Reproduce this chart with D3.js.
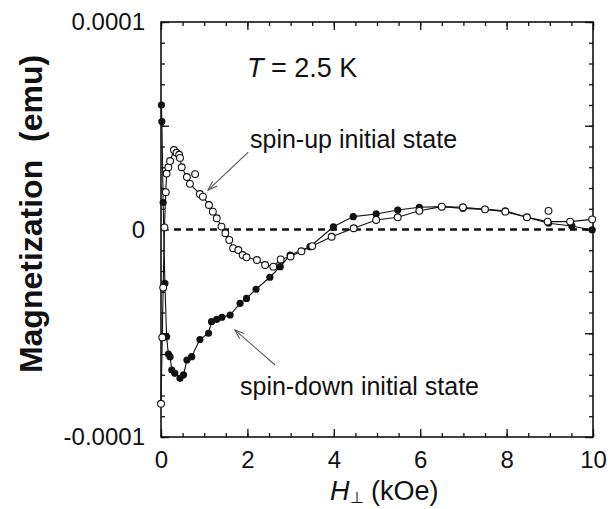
<!DOCTYPE html>
<html><head><meta charset="utf-8">
<script src="https://cdn.jsdelivr.net/npm/d3@7"></script>
<style>body{margin:0;background:#fff}svg{display:block}text{font-family:"Liberation Sans",Arial,Helvetica,sans-serif;fill:#111}</style>
</head><body>
<script>
// ---- data (M in units of 1e-5 emu) ----
const upH = [0,0.03,0.05,0.08,0.11,0.13,0.17,0.21,0.3,0.36,0.42,0.44,0.48,0.6,0.67,0.9,0.97,1.11,1.2,1.29,1.4,1.49,1.58,1.67,1.79,1.89,1.98,2.22,2.41,2.6,2.77,3.0,3.25,3.5,3.95,4.46,4.98,5.48,5.98,6.5,6.99,7.5,7.97,8.47,8.95,9.47,9.98];
const upM = [-8.4,-5.2,-2.8,0.1,1.8,2.7,3.0,3.3,3.83,3.7,3.6,3.45,3.0,2.53,2.2,1.71,1.58,1.18,0.86,0.54,0.14,-0.18,-0.5,-0.9,-0.99,-1.23,-1.34,-1.47,-1.71,-1.79,-1.44,-1.3,-1.05,-0.8,-0.35,0.06,0.46,0.59,0.9,1.1,1.07,0.97,0.86,0.59,0.38,0.38,0.49];
const upOutH = [0.79, 8.97];
const upOutM = [2.67, 0.9];
const downH = [0.01,0.02,0.05,0.09,0.13,0.17,0.21,0.25,0.32,0.44,0.52,0.6,0.71,0.9,1.1,1.17,1.29,1.41,1.6,1.83,1.98,2.2,2.52,2.76,2.99,3.45,3.99,4.45,4.98,5.48,5.98,6.5,6.99,7.5,7.97,8.47,8.97,9.51,9.98];
const downM = [6.0,5.2,1.3,-2.6,-5.17,-6.0,-6.13,-6.77,-6.93,-7.17,-7.01,-6.29,-6.13,-5.3,-5.0,-4.44,-4.33,-4.23,-4.12,-3.56,-3.32,-2.88,-2.3,-1.79,-1.23,-0.83,0.13,0.62,0.75,0.94,1.07,1.1,1.02,0.97,0.9,0.59,0.3,0.17,-0.02];
const xMajor = [0,2,4,6,8,10];
const xMinor = d3.range(0, 10.01, 0.5);
const yLabeled = [1e-4, 0, -1e-4];
const yLabels = ["0.0001", "0", "-0.0001"];
const yMajor = [-1e-4,-5e-5,0,5e-5,1e-4];
const yMinor = d3.range(-10, 10.5, 1).map(v => v * 1e-5);
const S = 1e-5;

const W = 608, H = 509;
const svg = d3.select("body").append("svg").attr("width", W).attr("height", H);
const x = d3.scaleLinear().domain([0, 10]).range([161, 593]);
const y = d3.scaleLinear().domain([-1e-4, 1e-4]).range([437, 22]);

// zero dashed line
svg.append("line").attr("x1", x(0.3)).attr("x2", x(10)).attr("y1", y(0)).attr("y2", y(0))
  .attr("stroke", "#111").attr("stroke-width", 2.6).attr("stroke-dasharray", "7,5");

// axes (inward ticks)
function noText(g){ g.selectAll("text").remove(); g.select(".domain").remove(); }
svg.append("g").attr("transform", `translate(0,${y(-1e-4)})`)
  .call(d3.axisBottom(x).tickValues(xMinor).tickSize(-4).tickFormat("")).call(noText);
svg.append("g").attr("transform", `translate(0,${y(1e-4)})`)
  .call(d3.axisTop(x).tickValues(xMinor).tickSize(-4).tickFormat("")).call(noText);
svg.append("g").attr("transform", `translate(0,${y(-1e-4)})`)
  .call(d3.axisBottom(x).tickValues(xMajor).tickSize(-8).tickPadding(14).tickFormat(d3.format("d")))
  .call(g => { g.select(".domain").remove(); g.selectAll("text").attr("font-size", 24).attr("fill", "#111"); });
svg.append("g").attr("transform", `translate(0,${y(1e-4)})`)
  .call(d3.axisTop(x).tickValues(xMajor).tickSize(-8).tickFormat("")).call(noText);

svg.append("g").attr("transform", `translate(${x(0)},0)`)
  .call(d3.axisLeft(y).tickValues(yMinor).tickSize(-4).tickFormat("")).call(noText);
svg.append("g").attr("transform", `translate(${x(10)},0)`)
  .call(d3.axisRight(y).tickValues(yMinor).tickSize(-4).tickFormat("")).call(noText);
svg.append("g").attr("transform", `translate(${x(0)},0)`)
  .call(d3.axisLeft(y).tickValues(yMajor).tickSize(-8).tickFormat("")).call(noText);
svg.append("g").attr("transform", `translate(${x(10)},0)`)
  .call(d3.axisRight(y).tickValues(yMajor).tickSize(-8).tickFormat("")).call(noText);
svg.append("g").attr("transform", `translate(${x(0)},0)`)
  .call(d3.axisLeft(y).tickValues(yLabeled).tickSize(0).tickPadding(16).tickFormat((d, i) => yLabels[i]))
  .call(g => { g.select(".domain").remove(); g.selectAll("text").attr("font-size", 24).attr("fill", "#111"); });
svg.selectAll(".tick line").attr("stroke", "#111").attr("stroke-width", 1.3);

// frame
svg.append("rect").attr("x", x(0)).attr("y", y(1e-4)).attr("width", x(10) - x(0)).attr("height", y(-1e-4) - y(1e-4))
  .attr("fill", "none").attr("stroke", "#111").attr("stroke-width", 1.6);

// curves
const line = d3.line().x(d => x(d[0])).y(d => y(d[1] * S));
const up = upH.map((h, i) => [h, upM[i]]);
const down = downH.map((h, i) => [h, downM[i]]);
svg.append("path").attr("d", line(up)).attr("fill", "none").attr("stroke", "#111").attr("stroke-width", 1.1);
svg.append("path").attr("d", line(down)).attr("fill", "none").attr("stroke", "#111").attr("stroke-width", 1.1);

svg.append("g").selectAll("circle").data(down).join("circle")
  .attr("cx", d => x(d[0])).attr("cy", d => y(d[1] * S)).attr("r", 3.6).attr("fill", "#111");
const upAll = up.concat(upOutH.map((h, i) => [h, upOutM[i]]));
svg.append("g").selectAll("circle").data(upAll).join("circle")
  .attr("cx", d => x(d[0])).attr("cy", d => y(d[1] * S)).attr("r", 3.4)
  .attr("fill", "#fff").attr("stroke", "#111").attr("stroke-width", 1.1);

// annotations
const T = svg.append("text").attr("x", 247).attr("y", 77).attr("font-size", 27);
T.append("tspan").attr("font-style", "italic").text("T");
T.append("tspan").text(" = 2.5 K");

function arrow(h0, m0, h1, m1) {
  const X0 = x(h0), Y0 = y(m0 * S), X1 = x(h1), Y1 = y(m1 * S);
  svg.append("line").attr("x1", X0).attr("y1", Y0).attr("x2", X1).attr("y2", Y1)
    .attr("stroke", "#555").attr("stroke-width", 1.1);
  const a = Math.atan2(Y1 - Y0, X1 - X0), L = 10, sp = 0.35;
  const p = [[X1 - L * Math.cos(a - sp), Y1 - L * Math.sin(a - sp)], [X1, Y1], [X1 - L * Math.cos(a + sp), Y1 - L * Math.sin(a + sp)]];
  svg.append("path").attr("d", d3.line()(p)).attr("fill", "none").attr("stroke", "#555").attr("stroke-width", 1.1);
}
svg.append("text").attr("x", 250).attr("y", 148).attr("font-size", 25).text("spin-up initial state");
arrow(2.02, 3.73, 1.09, 1.9);
svg.append("text").attr("x", 240).attr("y", 395).attr("font-size", 25).text("spin-down initial state");
arrow(2.64, -6.53, 1.71, -4.84);

// axis titles
const xt = svg.append("text").attr("x", 330).attr("y", 500).attr("font-size", 27);
xt.append("tspan").attr("font-style", "italic").text("H");
xt.append("tspan").attr("font-size", 16).attr("dy", 3).text("⊥");
xt.append("tspan").attr("dy", -3).text(" (kOe)");

svg.append("text").attr("transform", "translate(42,214) rotate(-90)").attr("text-anchor", "middle")
  .attr("font-size", 32).attr("font-weight", "bold").attr("fill", "#222").text("Magnetization\u00a0\u00a0(emu)");
</script>
</body></html>
